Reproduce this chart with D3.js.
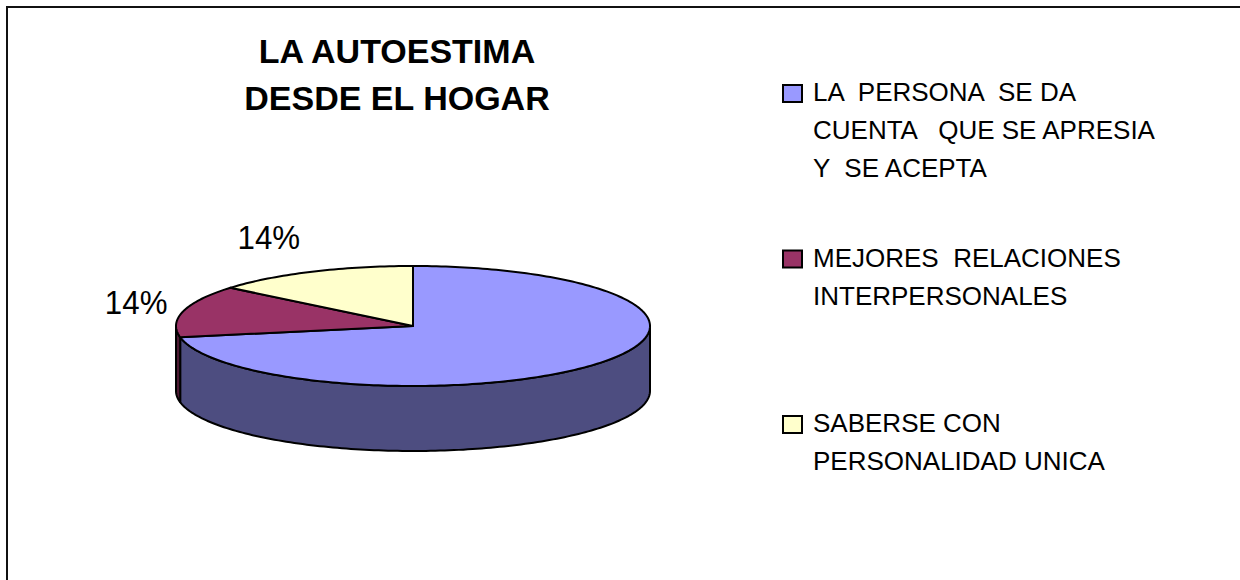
<!DOCTYPE html>
<html>
<head>
<meta charset="utf-8">
<script src="https://cdn.jsdelivr.net/npm/d3@7"></script>
<style>
  body { margin: 0; background: #fff; }
  svg { display: block; font-family: "Liberation Sans", Arial, sans-serif; }
</style>
</head>
<body>
<div id="chart"></div>
<script>
// chart data
var categories = [
  ["LA  PERSONA  SE DA", "CUENTA   QUE SE APRESIA", "Y  SE ACEPTA"],
  ["MEJORES  RELACIONES", "INTERPERSONALES"],
  ["SABERSE CON", "PERSONALIDAD UNICA"]
];
var values = [72, 14, 14];
var showLabel = [false, true, true];
var colors = ["#9999FF", "#993366", "#FFFFCC"];
var titleLines = ["LA AUTOESTIMA", "DESDE EL HOGAR"];

var width = 1240, height = 580;

const svg = d3.select("#chart").append("svg")
  .attr("width", width)
  .attr("height", height);

// chart area frame (runs past the right / bottom edge like the original)
svg.append("rect")
  .attr("x", 7).attr("y", 7)
  .attr("width", 1400).attr("height", 800)
  .attr("fill", "white")
  .attr("stroke", "#111")
  .attr("stroke-width", 2);

// title
svg.append("g")
  .selectAll("text")
  .data(titleLines)
  .join("text")
  .attr("x", 397)
  .attr("y", (d, i) => 63 + i * 47)
  .attr("text-anchor", "middle")
  .style("font-size", "34px")
  .style("font-weight", "bold")
  .text(d => d);

// 3d pie geometry
var cx = 413, cy = 326, rx = 237, ry = 60, depth = 65;

var pie = d3.pie().sort(null).value(d => d);
var arcs = pie(values);

// angle measured clockwise from 12 o'clock
function pt(a, dy) {
  return [cx + rx * Math.sin(a), cy - ry * Math.cos(a) + (dy || 0)];
}
function arcPoints(a0, a1, dy) {
  var n = Math.max(2, Math.ceil(Math.abs(a1 - a0) / 0.02));
  return d3.range(n + 1).map(i => pt(a0 + (a1 - a0) * i / n, dy));
}
var line = d3.line();

// sides - only the front half (pi/2 .. 3pi/2) is visible
const sides = svg.append("g");
arcs.forEach((d, i) => {
  var s = Math.max(d.startAngle, Math.PI / 2);
  var e = Math.min(d.endAngle, 3 * Math.PI / 2);
  if (e <= s) return;
  var top = arcPoints(s, e, 0);
  var bottom = arcPoints(e, s, depth);
  var c = d3.color(colors[i]);
  sides.append("path")
    .attr("d", line(top.concat(bottom)) + "Z")
    .attr("fill", d3.rgb(c.r / 2, c.g / 2, c.b / 2))
    .attr("stroke", "black")
    .attr("stroke-width", 2)
    .attr("stroke-linejoin", "round");
});

// tops
svg.append("g")
  .selectAll("path")
  .data(arcs)
  .join("path")
  .attr("d", d => line([[cx, cy]].concat(arcPoints(d.startAngle, d.endAngle, 0))) + "Z")
  .attr("fill", (d, i) => colors[i])
  .attr("stroke", "black")
  .attr("stroke-width", 2)
  .attr("stroke-linejoin", "round");

// data labels (percent of total), placed just outside the rim
var total = d3.sum(values);
var labelNudge = [[0, 0], [-16, 3], [-12, -23]];
arcs.forEach((d, i) => {
  if (!showLabel[i]) return;
  var mid = (d.startAngle + d.endAngle) / 2;
  var p = pt(mid, 0);
  var x = p[0] + labelNudge[i][0], y = p[1] + labelNudge[i][1];
  svg.append("g")
    .attr("transform", `translate(${x},${y}) scale(0.92,1)`)
    .append("text")
    .attr("text-anchor", "end")
    .style("font-size", "34px")
    .text(Math.round(d.value / total * 100) + "%");
});

// legend
var ly = d3.scalePoint().domain(d3.range(categories.length)).range([101, 432]);
const legend = svg.append("g")
  .selectAll("g")
  .data(categories)
  .join("g")
  .attr("transform", (d, i) => `translate(783,${ly(i)})`);

legend.append("rect")
  .attr("x", 0).attr("y", -16)
  .attr("width", 19).attr("height", 17)
  .attr("fill", (d, i) => colors[i])
  .attr("stroke", "black")
  .attr("stroke-width", 2);

legend.append("text")
  .style("font-size", "26px")
  .style("white-space", "pre")
  .selectAll("tspan")
  .data(d => d)
  .join("tspan")
  .attr("x", 30)
  .attr("y", (d, i) => i * 38)
  .text(d => d);
</script>
</body>
</html>
